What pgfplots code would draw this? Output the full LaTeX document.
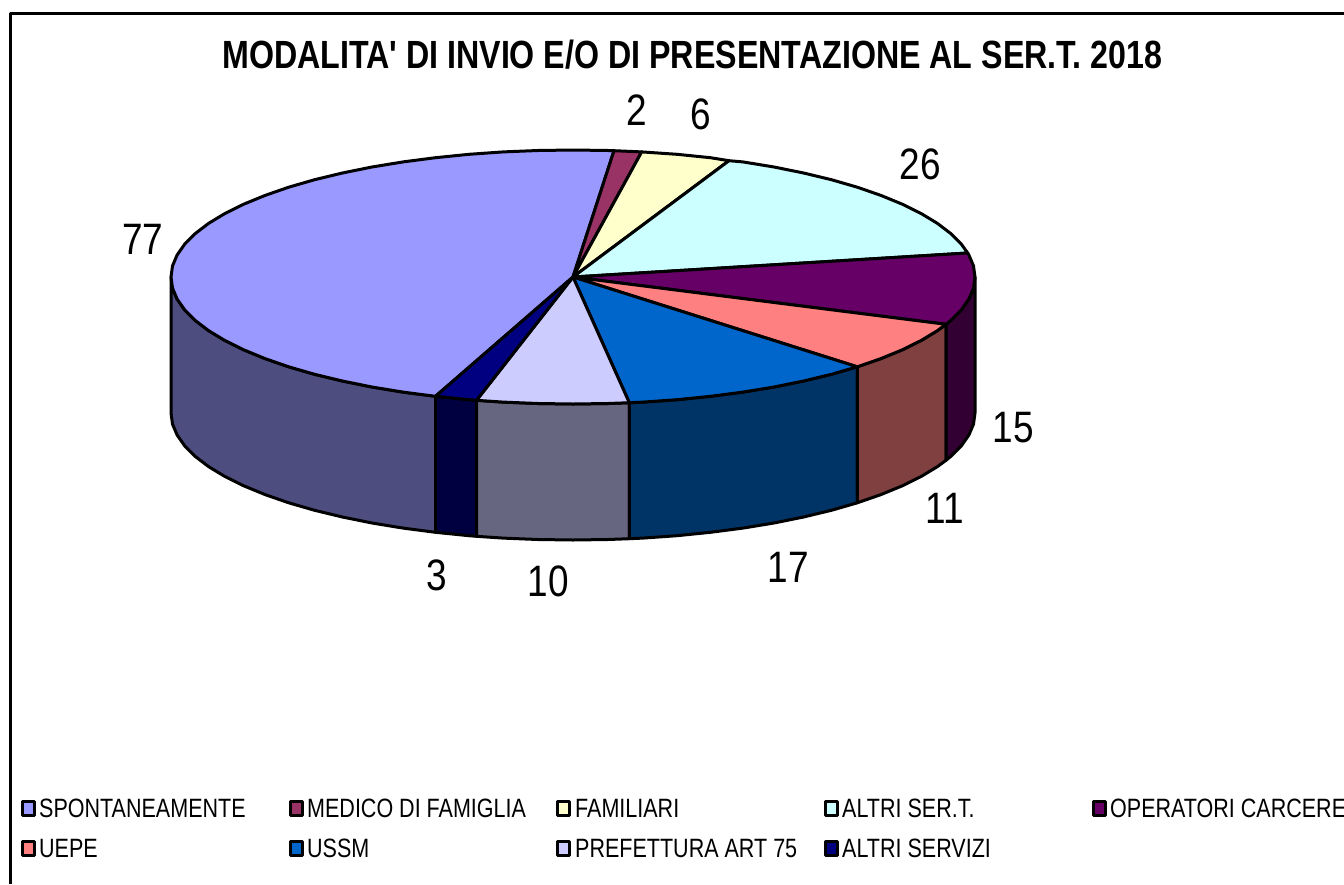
\documentclass[border=0pt]{standalone}
\usepackage{fontspec}
\setmainfont{Liberation Sans}
\newfontfamily\titlefont{Liberation Sans}
\usepackage{graphicx}
\usepackage{pgfplots}
\pgfplotsset{compat=1.18}
\definecolor{cSpont}{HTML}{9999FF}\definecolor{sSpont}{HTML}{4D4D80}
\definecolor{cMed}{HTML}{993366}
\definecolor{cFam}{HTML}{FFFFCC}
\definecolor{cAltri}{HTML}{CCFFFF}
\definecolor{cOper}{HTML}{660066}\definecolor{sOper}{HTML}{330033}
\definecolor{cUepe}{HTML}{FF8080}\definecolor{sUepe}{HTML}{804040}
\definecolor{cUssm}{HTML}{0066CC}\definecolor{sUssm}{HTML}{003366}
\definecolor{cPref}{HTML}{CCCCFF}\definecolor{sPref}{HTML}{666680}
\definecolor{cServ}{HTML}{000080}\definecolor{sServ}{HTML}{000040}
\newcommand{\lab}[3]{\node[anchor=base,inner sep=0pt] at (axis cs:#1,#2) {\scalebox{0.84}[1]{\fontsize{44}{44}\selectfont #3}};}
\newcommand{\leg}[3]{\node[anchor=base west,inner sep=0pt] at (axis cs:#1,#2) {\scalebox{0.812}[1]{\fontsize{26.5}{26.5}\selectfont #3}};}
\begin{document}
\begin{tikzpicture}
\begin{axis}[scale only axis,width=1344pt,height=884pt,hide axis,y dir=reverse,
  xmin=0,xmax=1344,ymin=0,ymax=884,clip=true,
  every axis plot/.append style={draw=black,line width=3pt,line join=round}]
% frame
\addplot[fill=none] coordinates {(10.5,884) (10.5,13.5) (1344,13.5)};
% side faces
\addplot[fill=sSpont] coordinates {(171,277)(172.5,288.1)(177.1,299)(184.7,309.9)(195.2,320.4)(208.7,330.7)(224.9,340.5)(243.7,349.8)(265.1,358.6)(288.7,366.8)(314.6,374.3)(342.4,381)(372,387)(403.1,392.1)(435.5,396.3)(435.5,532.3)(403.1,528.1)(372,523)(342.4,517)(314.6,510.3)(288.7,502.8)(265.1,494.6)(243.7,485.8)(224.9,476.5)(208.7,466.7)(195.2,456.4)(184.7,445.9)(177.1,435)(172.5,424.1)(171,413)} -- cycle;
\addplot[fill=sServ] coordinates {(435.5,396.3)(469,399.7)(476.5,400.3)(476.5,536.3)(469,535.7)(435.5,532.3)} -- cycle;
\addplot[fill=sPref] coordinates {(476.5,400.3)(503.2,402.1)(537.9,403.5)(573,404)(608.1,403.5)(629.3,402.7)(629.3,538.7)(608.1,539.5)(573,540)(537.9,539.5)(503.2,538.1)(476.5,536.3)} -- cycle;
\addplot[fill=sUssm] coordinates {(629.3,402.7)(642.8,402.1)(677,399.7)(710.5,396.3)(742.9,392.1)(774,387)(803.6,381)(831.4,374.3)(857.3,366.8)(857.3,502.8)(831.4,510.3)(803.6,517)(774,523)(742.9,528.1)(710.5,532.3)(677,535.7)(642.8,538.1)(629.3,538.7)} -- cycle;
\addplot[fill=sUepe] coordinates {(857.3,366.8)(880.9,358.6)(902.3,349.8)(921.1,340.5)(937.3,330.7)(946,324.3)(946,460.3)(937.3,466.7)(921.1,476.5)(902.3,485.8)(880.9,494.6)(857.3,502.8)} -- cycle;
\addplot[fill=sOper] coordinates {(946,324.3)(950.8,320.4)(961.3,309.9)(968.9,299)(973.5,288.1)(975,277)(975,413)(973.5,424.1)(968.9,435)(961.3,445.9)(950.8,456.4)(946,460.3)} -- cycle;
% top slices
\addplot[fill=cSpont] coordinates {(573,277)(614,150.7)(608.1,150.5)(573,150)(537.9,150.5)(503.2,151.9)(469,154.3)(435.5,157.7)(403.1,161.9)(372,167)(342.4,173)(314.6,179.7)(288.7,187.2)(265.1,195.4)(243.7,204.2)(224.9,213.5)(208.7,223.3)(195.2,233.6)(184.7,244.1)(177.1,255)(172.5,265.9)(171,277)(172.5,288.1)(177.1,299)(184.7,309.9)(195.2,320.4)(208.7,330.7)(224.9,340.5)(243.7,349.8)(265.1,358.6)(288.7,366.8)(314.6,374.3)(342.4,381)(372,387)(403.1,392.1)(435.5,396.3)} -- cycle;
\addplot[fill=cMed] coordinates {(573,277)(614,150.7)(641.7,151.9)} -- cycle;
\addplot[fill=cFam] coordinates {(573,277)(641.7,151.9)(677,154.3)(710.5,157.7)(729,160.7)} -- cycle;
\addplot[fill=cAltri] coordinates {(573,277)(729,160.7)(742.9,161.9)(774,167)(803.6,173)(831.4,179.7)(857.3,187.2)(880.9,195.4)(902.3,204.2)(921.1,213.5)(937.3,223.3)(950.8,233.6)(961.3,244.1)(967.7,253)} -- cycle;
\addplot[fill=cOper] coordinates {(573,277)(967.7,253)(968.9,255)(973.5,265.9)(975,277)(973.5,288.1)(968.9,299)(961.3,309.9)(950.8,320.4)(946,324.3)} -- cycle;
\addplot[fill=cUepe] coordinates {(573,277)(946,324.3)(937.3,330.7)(921.1,340.5)(902.3,349.8)(880.9,358.6)(857.3,366.8)} -- cycle;
\addplot[fill=cUssm] coordinates {(573,277)(857.3,366.8)(831.4,374.3)(803.6,381)(774,387)(742.9,392.1)(710.5,396.3)(677,399.7)(642.8,402.1)(629.3,402.7)} -- cycle;
\addplot[fill=cPref] coordinates {(573,277)(629.3,402.7)(608.1,403.5)(573,404)(537.9,403.5)(503.2,402.1)(476.5,400.3)} -- cycle;
\addplot[fill=cServ] coordinates {(573,277)(476.5,400.3)(469,399.7)(435.5,396.3)} -- cycle;
% legend swatches
\addplot[fill=cSpont] coordinates {(22,801)(34.5,801)(34.5,815.5)(22,815.5)} -- cycle;
\addplot[fill=cMed] coordinates {(290,801)(302.5,801)(302.5,815.5)(290,815.5)} -- cycle;
\addplot[fill=cFam] coordinates {(557,801)(569.5,801)(569.5,815.5)(557,815.5)} -- cycle;
\addplot[fill=cAltri] coordinates {(825,801)(837.5,801)(837.5,815.5)(825,815.5)} -- cycle;
\addplot[fill=cOper] coordinates {(1093,801)(1105.5,801)(1105.5,815.5)(1093,815.5)} -- cycle;
\addplot[fill=cUepe] coordinates {(22,841)(34.5,841)(34.5,855.5)(22,855.5)} -- cycle;
\addplot[fill=cUssm] coordinates {(290,841)(302.5,841)(302.5,855.5)(290,855.5)} -- cycle;
\addplot[fill=cPref] coordinates {(557,841)(569.5,841)(569.5,855.5)(557,855.5)} -- cycle;
\addplot[fill=cServ] coordinates {(825,841)(837.5,841)(837.5,855.5)(825,855.5)} -- cycle;
% texts
\node[anchor=base west,inner sep=0pt] at (axis cs:222,68.5) {\resizebox{940pt}{28.5pt}{\fontsize{40}{40}\selectfont\titlefont\bfseries MODALITA' DI INVIO E/O DI PRESENTAZIONE AL SER.T. 2018}};
\lab{143}{254}{77}
\lab{636.5}{125}{2}
\lab{700.5}{129}{6}
\lab{920.5}{179}{26}
\lab{1013}{442}{15}
\lab{945}{523}{11}
\lab{788}{582}{17}
\lab{548}{596}{10}
\lab{437}{590}{3}
\leg{39}{817.5}{SPONTANEAMENTE}
\leg{307}{817.5}{MEDICO DI FAMIGLIA}
\leg{575}{817.5}{FAMILIARI}
\leg{842}{817.5}{ALTRI SER.T.}
\leg{1110}{817.5}{OPERATORI CARCERE}
\leg{39}{857.5}{UEPE}
\leg{307}{857.5}{USSM}
\leg{575}{857.5}{PREFETTURA ART 75}
\leg{842}{857.5}{ALTRI SERVIZI}
\end{axis}
\pgfresetboundingbox
\path (0,0) rectangle (1344pt,884pt);
\end{tikzpicture}
\end{document}
